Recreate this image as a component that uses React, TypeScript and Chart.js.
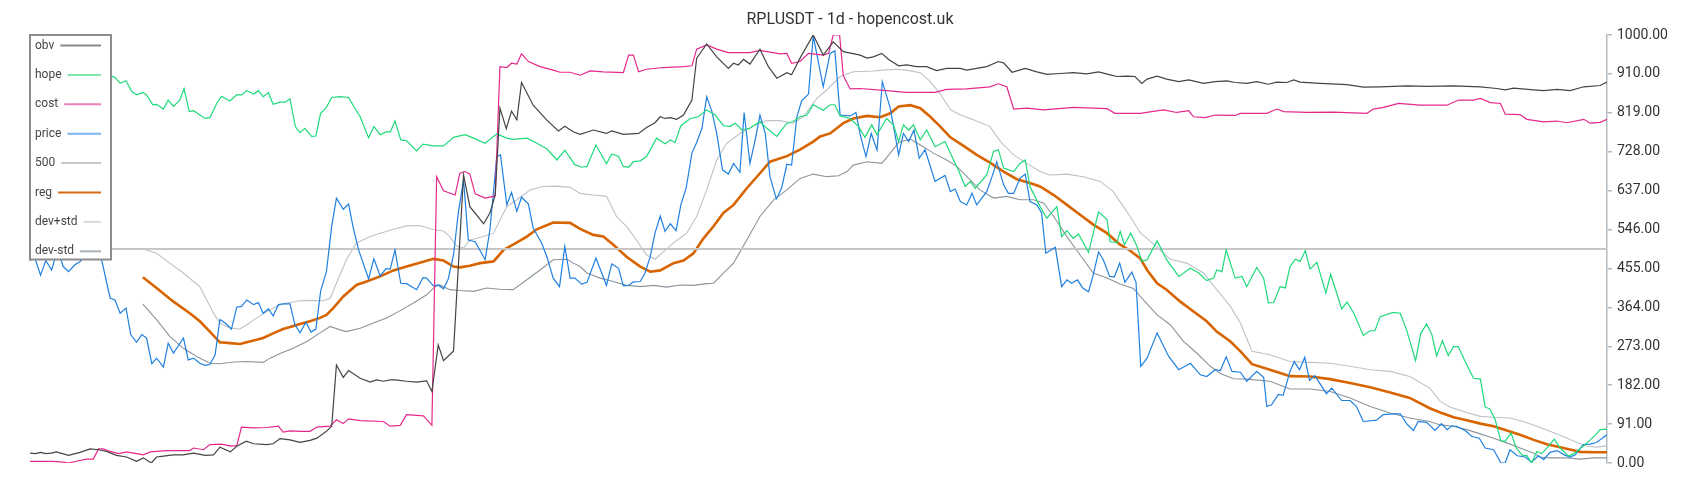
import React, { useEffect, useRef } from 'react';
import { Chart, registerables } from 'chart.js';

Chart.register(...registerables);

const TITLE = 'RPLUSDT - 1d - hopencost.uk';
const DAY_MAX = 299;
const Y_MAX = 1000;
const yTickLabels = ['0.00', '91.00', '182.00', '273.00', '364.00', '455.00', '546.00', '637.00', '728.00', '819.00', '910.00', '1000.00'];

// [day index, value]
const obv: [number, number][] = [[0,23],[1,22],[2,25],[3,22],[4,23],[5,26],[7.3,18],[9.5,25],[11.4,33],[13,31],[14.5,27],[16.4,18],[18.3,14],[20.2,4],[21.5,12],[23,0],[24,14],[25.3,16],[27.2,19],[29,19],[31,23],[33.2,18],[34.8,19],[36,37],[38,26],[39.2,39],[41,51],[42.4,45],[44.9,43],[46.1,45],[47.4,57],[49.3,54],[51.2,48],[53.1,53],[54.4,58],[56.2,74],[57.2,86],[58.1,229],[59.4,200],[60.4,216],[62.6,198],[64.5,189],[65.7,194],[67,191],[68.3,194],[69.2,194],[71.4,191],[73.3,189],[75.2,192],[76.2,167],[77.4,276],[78.4,239],[80.3,262],[82.2,673],[83.4,599],[86,559],[87.2,584],[88.2,626],[89.1,829],[90.3,781],[91.3,822],[92.3,802],[93.2,889],[95.4,836],[98,801],[100.2,776],[101.4,787],[103,774],[104.3,768],[106.8,778],[109.3,770],[110.3,776],[112.5,768],[115.4,770],[116.9,784],[118.5,795],[119.5,809],[120.4,805],[121.4,807],[122.6,803],[123.9,813],[125.5,848],[126.4,946],[128.3,979],[130.2,949],[132.4,922],[133.4,934],[134.3,930],[135.3,943],[136.5,932],[138.4,967],[140,926],[141.6,899],[143.5,912],[144.4,907],[146,946],[148.5,1000],[150.4,953],[152.3,984],[154.2,961],[155.8,957],[157.4,953],[158.7,946],[159.9,949],[161.5,957],[162.8,943],[164.7,928],[166.2,930],[168.1,926],[170,926],[171.9,917],[173.8,922],[176.4,922],[177.6,918],[179.5,922],[181.4,926],[183.6,938],[184.6,935],[186.2,913],[188.7,922],[190.9,914],[192.8,908],[195.3,910],[197.8,912],[200.4,909],[202.6,914],[204.8,907],[206.1,903],[208,904],[209.5,903],[210.8,887],[211.8,897],[213.7,904],[215.5,897],[217.8,891],[219.7,895],[222.5,887],[224.7,891],[226.9,893],[228.5,889],[230.7,887],[232.6,891],[234.8,885],[236.4,890],[238.3,889],[239.6,895],[240.8,890],[244.6,887],[249.7,884],[252.8,878],[256,879],[261.1,881],[264.8,880],[269.9,881],[275,879],[278.1,875],[279.7,872],[281.3,876],[285.1,872],[287,870],[289.5,873],[292,870],[294.6,879],[297.7,882],[299,890]];

const hope: [number, number][] = [[0,905],[5,900],[10,897],[15.5,904],[16.1,901],[17.1,887],[18.2,893],[19.3,868],[20.2,860],[21.4,866],[22.1,860],[23.3,837],[24,838],[25.3,827],[26.2,848],[27.2,833],[28.4,848],[29.2,875],[30.2,821],[31,823],[32.2,813],[33.2,805],[34.1,807],[35.4,840],[36.3,857],[37.9,846],[39.2,860],[40.1,860],[41.1,870],[42.4,862],[43.3,870],[44.2,856],[45.2,865],[46.1,838],[47.4,843],[48.4,843],[49.3,851],[50.3,786],[51.2,772],[52.1,782],[53.4,763],[54.2,764],[55.1,817],[56.2,831],[57.2,854],[58.8,856],[60.4,854],[61.6,829],[62.6,809],[64.2,760],[65.2,786],[66.4,767],[67.6,774],[68.3,773],[69.2,799],[70.3,755],[71.4,753],[73.3,729],[74.5,745],[76.5,741],[78.4,741],[80.3,761],[82.5,767],[84.1,759],[86.3,747],[88.5,769],[90.4,759],[91.6,756],[94.2,759],[96.1,747],[98,734],[99.9,708],[101.4,731],[103.3,697],[104.6,691],[105.6,693],[107.3,743],[109.3,699],[110.3,722],[111.6,716],[112.5,693],[113.5,691],[114.4,704],[115.7,706],[116.9,716],[118.8,759],[120.4,746],[121.4,755],[122.3,749],[123.4,788],[125.2,805],[126.7,809],[128.3,825],[129.9,813],[131.5,788],[132.7,786],[133.7,794],[135,778],[136.5,782],[138.4,798],[139.7,782],[141.6,763],[143.5,794],[144.7,798],[146,809],[147.3,813],[148.5,837],[150.4,824],[151.7,837],[152.6,837],[153.6,811],[155.5,805],[157.1,786],[158.3,761],[159.6,790],[160.6,767],[162.4,805],[163.7,790],[164.7,751],[165.6,790],[166.6,778],[167.5,790],[168.8,755],[170,778],[171.6,739],[173.5,751],[175.1,708],[176,685],[177.3,646],[178.3,658],[179.2,642],[181.4,673],[182.7,728],[183.6,732],[184.6,689],[186.5,681],[187.7,700],[188.7,708],[189.6,646],[191.5,599],[192.8,572],[194.7,599],[195.6,529],[196.6,543],[197.8,525],[198.8,535],[200.7,492],[202.6,587],[204.2,569],[204.8,517],[206.1,515],[206.7,541],[207.5,510],[208.7,537],[209.9,506],[210.8,471],[211.8,475],[213.7,519],[215.5,475],[217.8,436],[220,455],[221.6,444],[223.1,426],[224.4,432],[225,451],[226,447],[226.8,498],[228.5,432],[229.8,436],[230.7,412],[232.6,457],[233.9,432],[234.8,374],[235.8,375],[237,412],[238,409],[238.9,459],[239.9,476],[240.8,471],[241.8,496],[242.7,453],[244,469],[245.7,397],[246.6,441],[248.7,360],[249.7,376],[251,350],[252.8,298],[254.1,309],[255,309],[256,342],[258.5,352],[259.8,350],[261,311],[262.7,239],[263.7,303],[264.8,325],[265.8,300],[266.7,250],[267.8,286],[268.9,251],[269.9,272],[270.8,272],[272.1,237],[273.7,198],[275,196],[275.9,131],[276.8,126],[277.8,101],[278.9,51],[279.7,51],[280.8,70],[281.8,35],[283,17],[283.8,17],[284.7,0],[285.7,27],[286.6,22],[287.9,39],[289,56],[290.1,35],[291.7,16],[292.9,23],[295.2,47],[296.7,64],[297.7,78],[299,79]];

const cost: [number, number][] = [[0,4],[2.5,4],[4.4,4],[6.3,2],[7.3,0],[8.8,4],[10.7,9],[12,9],[13,33],[13.9,33],[15.2,27],[16.8,22],[18.3,26],[20.2,22],[21.5,19],[22.8,26],[24,27],[25.9,29],[30.3,29],[31,35],[32.9,31],[34.1,43],[36.3,44],[37.9,40],[39.2,40],[40.1,84],[42.4,82],[44.9,83],[47.1,86],[48,72],[49.3,75],[51.2,74],[53.1,74],[54.4,84],[56.9,86],[58.1,101],[59.4,92],[60.4,103],[62.6,99],[67,97],[68.3,86],[70.2,88],[71.4,113],[74.6,110],[76.2,88],[77.1,669],[78.4,636],[80.6,626],[81.5,677],[82.5,681],[83.4,675],[84.4,629],[86.3,619],[88.2,624],[89.1,926],[90.4,924],[91.3,934],[92.3,932],[93.2,956],[94.5,938],[96.7,926],[99.2,918],[100.5,913],[102.4,913],[104.3,906],[106.2,916],[108.7,914],[112.5,912],[113.5,953],[114.4,953],[115.4,914],[116.9,920],[120.1,924],[123.9,926],[125.5,928],[126.4,967],[128.3,977],[130.2,967],[132.4,959],[136.5,959],[138.4,964],[142.2,956],[143.5,957],[144.4,934],[146,938],[147.6,957],[150.4,953],[151.4,957],[152.3,1000],[153.5,1000],[154.2,905],[155.5,874],[157.4,875],[162.4,870],[166.2,866],[171.6,866],[173.8,873],[177.6,874],[182,879],[183.6,886],[185.2,879],[186.5,827],[189,829],[192.2,825],[197.8,831],[204.2,828],[205.7,817],[210.5,817],[214.9,825],[217.4,819],[219.7,823],[220.6,809],[222.8,807],[224.7,813],[228.5,812],[229.5,817],[234.5,817],[236.4,827],[237.7,821],[242.1,819],[247.2,820],[253.5,817],[254.7,827],[256.6,831],[259.5,840],[263.6,836],[268.6,836],[270.9,848],[273.7,848],[275,852],[276.9,842],[278.8,840],[279.7,815],[282.5,814],[283.8,803],[287,797],[289.5,799],[291.4,795],[294.6,803],[295.8,794],[297.7,796],[299,803]];

const price: [number, number][] = [[0,473],[0.9,480],[2,439],[3,473],[4.1,451],[4.7,476],[5.7,481],[6.3,459],[7.3,447],[8.5,463],[9.5,471],[11,490],[12.6,500],[13.3,490],[15.2,385],[16.1,381],[17.1,350],[18.2,362],[19.1,300],[20.2,282],[21.2,300],[22.1,292],[23.1,232],[24,245],[25.3,224],[26.2,280],[27.2,257],[29.1,292],[30,241],[31,245],[32.2,233],[33.2,228],[34.1,230],[35.1,253],[36,335],[37,327],[38.2,313],[39.2,364],[40.1,366],[41.1,381],[42.4,370],[43.3,375],[44.2,350],[45.2,360],[46.1,344],[47.1,370],[48,372],[49.3,372],[50.2,324],[51.2,304],[52.3,329],[53.3,306],[54.2,313],[55.1,401],[56.2,447],[57.2,553],[58.1,619],[59.4,593],[60.4,605],[61.3,549],[62.3,498],[64.2,430],[65.2,477],[66.4,437],[67.5,454],[68.3,453],[69.2,498],[70.3,420],[71.4,419],[73.3,405],[74.5,433],[75.2,432],[76.5,414],[77.4,416],[78.4,407],[79.3,430],[80.3,486],[81.2,584],[82.2,661],[83.1,521],[84.4,517],[86.3,475],[87.2,545],[88.5,716],[89.2,720],[90.4,603],[91.3,632],[92.3,588],[93.2,621],[94.5,605],[95.4,549],[97,514],[98,482],[99.2,432],[100.4,412],[101.4,506],[102.4,432],[103.3,432],[104.6,418],[105.6,422],[107.3,479],[109.3,415],[110.3,465],[111.6,455],[112.5,414],[113.5,415],[114.4,423],[115.7,424],[116.6,444],[117.6,482],[118.5,537],[119.5,577],[120.4,541],[121.4,559],[122.5,543],[123.4,603],[124.4,642],[125.5,724],[126.4,749],[127.4,782],[128.3,856],[129.3,821],[130.2,770],[131.3,685],[132.4,675],[133.4,700],[134.6,679],[135.4,819],[136.5,700],[137.5,755],[138.4,813],[139.4,770],[140.3,669],[141.5,617],[142.5,642],[143.5,698],[144.4,696],[145.4,809],[146.3,846],[147.6,862],[148.5,998],[150.4,879],[151.7,957],[152.6,963],[153.6,813],[155.5,811],[156.6,819],[157.4,767],[158.5,716],[159.5,770],[160.6,731],[161.6,891],[163.1,829],[164.7,720],[165.6,770],[166.6,751],[167.6,778],[168.6,712],[169.7,732],[171.6,658],[173.5,672],[174.5,634],[175.4,640],[176.4,611],[177.6,603],[178.6,630],[179.5,603],[181.4,634],[182.4,669],[183.3,704],[184.6,650],[185.5,630],[186.5,630],[187.7,665],[188.7,675],[189.6,611],[190.9,603],[191.8,584],[192.6,490],[194.4,504],[195.6,412],[196.6,428],[197.5,420],[198.6,428],[199.6,409],[200.7,400],[201.6,440],[202.6,493],[203.5,475],[204.7,436],[205.6,435],[206.6,467],[207.6,422],[208.9,446],[209.7,422],[210.6,226],[211.8,245],[213.7,304],[215.9,249],[217.8,218],[220,233],[221.9,206],[223.1,202],[224.7,218],[225.7,216],[226.8,248],[227.9,214],[229.5,212],[230.7,191],[232.6,214],[233.9,200],[234.5,132],[235.4,136],[236.7,160],[237.6,158],[238.9,214],[239.7,237],[240.7,218],[241.7,247],[242.6,193],[243.6,204],[245.8,162],[246.8,175],[248.7,146],[250.3,146],[251.5,132],[252.8,97],[255.3,100],[256.6,113],[258.5,115],[259.8,115],[261,92],[262.3,76],[263.2,97],[264.8,95],[266.4,76],[267.6,92],[268.7,78],[269.6,87],[270.6,85],[272.1,76],[273.4,62],[274.8,58],[275.9,35],[277.5,31],[278.9,0],[279.7,0],[280.6,31],[282,17],[283.5,14],[284.7,2],[286,17],[287,8],[288.2,25],[289.5,29],[290.9,19],[292,14],[293,19],[294.5,43],[295.8,44],[297,48],[299,66]];

const level500: [number, number][] = [[0,500],[299,500]];

const reg: [number, number][] = [[21.4,434],[24,409],[27.2,377],[30.3,350],[32.2,331],[34.1,307],[36,282],[37.9,280],[39.8,278],[42.4,286],[44.2,292],[46.1,303],[48,313],[49.3,318],[51.2,325],[53.1,331],[55,339],[56.2,346],[57.5,362],[59.4,389],[61.9,416],[63.8,424],[66.4,436],[68.9,450],[71.4,459],[73.9,468],[76.5,477],[78.4,473],[80.3,459],[81.5,457],[83.4,461],[85.3,467],[87.9,471],[89.8,498],[91.6,510],[94.2,529],[96.1,546],[99.2,562],[102.4,561],[104.3,547],[106.8,533],[108.7,529],[110.6,510],[113.1,482],[115.7,459],[117.6,447],[119.5,450],[122,467],[123.9,473],[125.8,490],[127.7,525],[129.6,553],[131.5,585],[133.4,603],[135.9,642],[138.4,677],[140.3,704],[143.5,717],[146,732],[148.5,751],[149.8,763],[151.7,770],[154.2,794],[156.1,805],[158.7,811],[161.2,808],[163.1,817],[164.7,833],[166.9,836],[168.8,829],[170.7,809],[172.6,786],[174.5,761],[177,741],[179.5,720],[182,702],[184.6,681],[187.1,663],[189.6,654],[191.5,646],[194.1,626],[196.6,603],[199.1,580],[201.6,557],[204.2,537],[206.7,510],[208.6,496],[210.5,478],[211.8,451],[213.7,420],[215.5,405],[218.1,377],[220.6,354],[223.1,331],[225,307],[227.6,284],[229.5,261],[231.7,231],[235.1,218],[238.9,203],[242.7,202],[246.5,196],[250.3,187],[254.1,177],[257.9,165],[261.6,152],[265.4,128],[267.4,118],[269.9,107],[272.4,100],[275,92],[277.5,86],[280,76],[282.5,66],[285.1,54],[287.6,44],[290.1,37],[292.6,30],[293.9,26],[296.4,25],[299,25]];

const devPlus: [number, number][] = [[21.4,500],[24,490],[26.5,467],[29.1,444],[31,424],[32.2,412],[33.5,381],[34.8,350],[36,327],[37.9,315],[39.8,313],[41.1,323],[43,339],[44.9,354],[46.8,366],[48.7,374],[51.2,379],[52.5,380],[55.6,379],[56.9,385],[58.1,420],[60,475],[61.9,514],[64.5,529],[66.4,537],[68.9,546],[71.4,554],[73.9,555],[76.5,545],[78.4,542],[79.6,529],[80.9,507],[82.2,502],[83.4,521],[86,529],[87.9,537],[89.1,568],[90.4,599],[92.3,615],[94.8,638],[97.3,646],[99.9,647],[102.4,644],[104.3,630],[106.8,626],[109.3,623],[111.2,576],[113.1,553],[115,521],[116.9,486],[118.5,476],[120.1,494],[122.6,520],[124.5,537],[126.4,576],[128.3,638],[130.2,708],[132.1,747],[134.6,770],[137.2,788],[139.7,800],[142.2,800],[144.7,794],[146.6,809],[149.2,852],[151.1,872],[153.6,903],[156.1,914],[159.9,916],[161.8,918],[164.3,920],[166.2,918],[168.8,912],[170.7,891],[172.6,862],[174.5,826],[176.4,813],[178.9,802],[182,786],[184,751],[186.5,720],[189,700],[191.5,681],[193.4,673],[196.6,675],[199.7,669],[202.9,658],[205.4,634],[206.7,610],[208.6,576],[210.5,538],[213,512],[216.2,476],[219.3,467],[222.5,444],[225,405],[227.6,366],[229.5,327],[231.7,261],[235.1,253],[238.9,237],[242.7,235],[246.5,233],[250.3,226],[254.1,218],[257.9,214],[261.6,202],[265.4,175],[267.4,144],[269.2,131],[272.4,118],[275,109],[277.5,107],[280.6,105],[283.1,97],[285.7,86],[288.2,74],[290.7,62],[293.3,48],[295.2,39],[297,37],[299,40]];

const devMinus: [number, number][] = [[21.4,371],[24,335],[26.5,296],[29.1,268],[31.6,249],[34.1,233],[36,232],[38.6,236],[41.1,237],[44.2,235],[45.5,245],[47.4,256],[49.9,268],[52.5,284],[55,304],[56.9,319],[58.8,311],[60,307],[62.6,315],[65.1,327],[67.6,339],[70.2,356],[72.7,374],[75.2,393],[76.8,412],[77.7,416],[79.6,405],[81.5,403],[84.1,401],[86.6,409],[89.1,406],[91.6,405],[94.2,428],[96.7,451],[99.2,475],[101.8,476],[103,467],[104.3,459],[105.6,444],[108.1,432],[110.6,424],[113.1,415],[115.7,412],[118.2,415],[120.7,411],[123.3,416],[125.8,415],[128.3,419],[129.6,420],[131.5,444],[133.4,467],[135.9,521],[138.4,576],[141,615],[143.5,638],[146,665],[148.5,675],[151.1,669],[153.3,671],[154.9,681],[156.1,696],[158.7,704],[161.5,700],[163.1,724],[164.7,749],[166.9,757],[168.8,743],[171.3,724],[173.8,708],[175.7,693],[178.3,661],[180.1,638],[182.7,619],[185.2,623],[187.7,615],[190.3,615],[192.2,607],[194.1,576],[196.6,529],[199.1,486],[201.6,444],[204.2,432],[206.7,418],[209.2,408],[211.1,381],[213.7,346],[216.2,323],[218.7,284],[221.2,257],[223.8,226],[225.7,209],[228.2,197],[230.7,196],[235.1,191],[238.9,173],[242.7,173],[246.5,167],[250.3,152],[254.1,132],[257.9,117],[261.6,105],[265.4,97],[267.4,89],[269.9,86],[272.4,78],[275,68],[277.5,58],[280,47],[282.5,35],[285.1,23],[286.3,14],[288.2,12],[291.4,12],[293.9,9],[296.4,12],[299,12]];

const seriesList = [
  { name: 'obv', data: obv, color: '#444444', legendColor: '#8a8a8a', width: 1.2 },
  { name: 'hope', data: hope, color: '#1ed97a', legendColor: '#7fe6ae', width: 1.2 },
  { name: 'cost', data: cost, color: '#e6288c', legendColor: '#ec80bb', width: 1.2 },
  { name: 'price', data: price, color: '#1f80e0', legendColor: '#7ab6ee', width: 1.2 },
  { name: '500', data: level500, color: '#c6c6c6', legendColor: '#c8c8c8', width: 2 },
  { name: 'reg', data: reg, color: '#d86400', legendColor: '#d56a12', width: 2.6 },
  { name: 'dev+std', data: devPlus, color: '#bcc2c8', legendColor: '#d6dade', width: 1.1 },
  { name: 'dev-std', data: devMinus, color: '#8b959d', legendColor: '#aab2b9', width: 1.1 },
];

const overlayPlugin = {
  id: 'overlay',
  afterDraw(chart: any) {
    const ctx = chart.ctx as CanvasRenderingContext2D;
    const area = chart.chartArea;
    ctx.save();
    // title
    ctx.font = '16px Roboto';
    ctx.fillStyle = '#333333';
    ctx.textAlign = 'center';
    ctx.textBaseline = 'middle';
    ctx.fillText(TITLE, chart.width / 2, 12);
    // legend box
    const bx = area.left;
    const by = area.top;
    const bw = 81;
    const bh = 224.5;
    ctx.fillStyle = '#ffffff';
    ctx.fillRect(bx, by, bw, bh);
    ctx.strokeStyle = '#8c8c8c';
    ctx.lineWidth = 2;
    ctx.strokeRect(bx, by, bw, bh);
    ctx.font = '12px Roboto';
    ctx.textAlign = 'left';
    const lineEnd = bx + bw - 10;
    seriesList.forEach((s, k) => {
      const cy = by + 10.5 + k * 29.4;
      ctx.fillStyle = '#444444';
      ctx.fillText(s.name, bx + 5, cy);
      const tw = ctx.measureText(s.name).width;
      ctx.strokeStyle = s.legendColor;
      ctx.lineWidth = 2;
      ctx.beginPath();
      ctx.moveTo(bx + 5 + tw + 6, cy);
      ctx.lineTo(lineEnd, cy);
      ctx.stroke();
    });
    ctx.restore();
  },
};

export default function App() {
  const ref = useRef<HTMLCanvasElement | null>(null);
  useEffect(() => {
    if (!ref.current) return;
    const chart = new Chart(ref.current, {
      type: 'line',
      data: {
        datasets: seriesList.map((s) => ({
          label: s.name,
          data: s.data.map(([x, y]) => ({ x, y })),
          borderColor: s.color,
          backgroundColor: s.color,
          borderWidth: s.width,
          pointRadius: 0,
          tension: 0,
          fill: false,
        })),
      },
      options: {
        animation: false,
        responsive: false,
        layout: { padding: { left: 22, top: 27, right: 0, bottom: 29 } },
        plugins: { legend: { display: false }, tooltip: { enabled: false }, title: { display: false } },
        scales: {
          x: { type: 'linear', min: 0, max: DAY_MAX, display: false },
          y: {
            type: 'linear',
            position: 'right',
            min: 0,
            max: Y_MAX,
            afterBuildTicks: (scale: any) => {
              scale.ticks = yTickLabels.map((_, k) => ({ value: (Y_MAX * k) / (yTickLabels.length - 1) }));
            },
            afterFit: (scale: any) => {
              scale.width = 85;
            },
            grid: { drawOnChartArea: false, tickLength: 5, color: '#b3bbc2', lineWidth: 1.5 },
            border: { color: '#b3bbc2', width: 1.5 },
            ticks: {
              padding: 5,
              color: '#333333',
              font: { family: 'Roboto', size: 14 },
              callback: (_v: any, idx: number) => yTickLabels[idx],
            },
          },
        },
      },
      plugins: [overlayPlugin],
    } as any);
    return () => chart.destroy();
  }, []);
  return (
    <div style={{ width: 1684, height: 484 }}>
      <canvas ref={ref} width={1684} height={484} />
    </div>
  );
}
